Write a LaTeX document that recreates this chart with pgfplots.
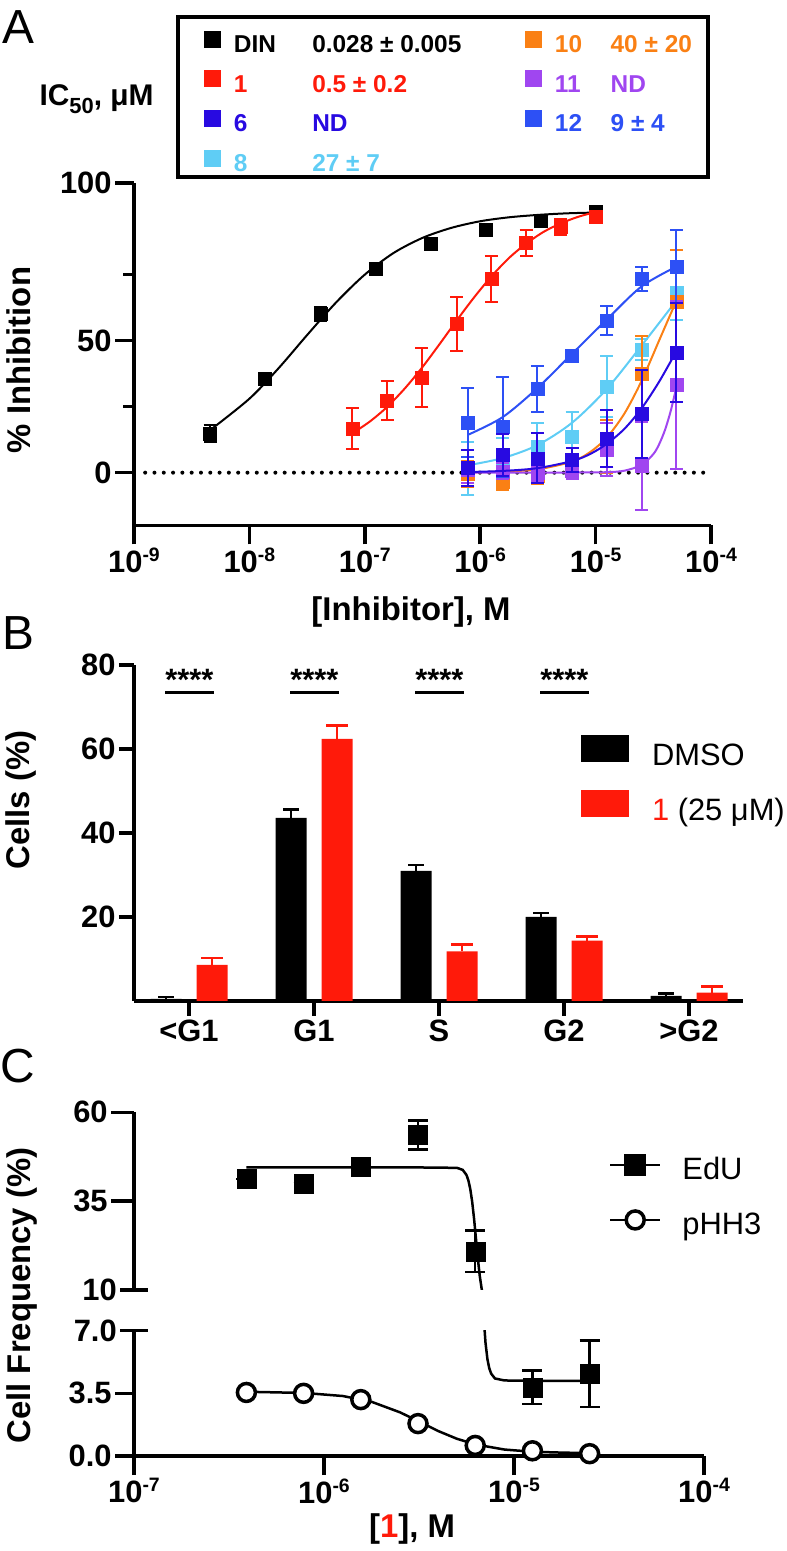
\documentclass[border=0pt]{standalone}
\usepackage{fontspec}
\setmainfont{Liberation Sans}
\usepackage{pgfplots}
\pgfplotsset{compat=1.18}
\definecolor{cRed}{RGB}{255,26,10}
\definecolor{cDB}{RGB}{40,10,225}
\definecolor{cLB}{RGB}{95,205,245}
\definecolor{cOr}{RGB}{250,128,20}
\definecolor{cPu}{RGB}{160,70,240}
\definecolor{cBl}{RGB}{45,80,245}
\newcommand\fs[1]{\fontsize{#1}{#1}\selectfont}
\newcommand\tpow[1]{10\raisebox{11bp}{\fs{19.5}#1}}
\newcommand\SR{\rule[-6.08bp]{0pt}{37.7bp}}
\newcommand\SB{\rule[-8bp]{0pt}{38bp}}
\newcommand\SC{\rule[-10bp]{0pt}{34bp}}
\pgfplotsset{
 gp/.style={scale only axis, anchor=south west, clip mode=individual,
  axis line style={line width=3.5bp,-},
  tick style={line width=3.5bp, black},
  tick align=outside, major tick length=19bp, minor tick length=11bp,
  ticklabel style={font=\bfseries\fs{31}},
  /pgf/number format/assume math mode=true,
  legend cell align=left},
 ptA/.style={only marks, mark=square*, mark size=6.5bp, mark options={solid},
  error bars/.cd, y dir=both, y explicit, error bar style={line width=2bp, #1},
  error mark options={rotate=90, mark size=6.5bp, line width=2bp, #1}},
 cvA/.style={line width=2bp, smooth, no marks, forget plot},
}
\begin{document}
\begin{tikzpicture}[x=1bp,y=1bp]
\useasboundingbox (0,0) rectangle (786,1551);

% ================= Panel A =================
\begin{axis}[gp, at={(134bp,1025.5bp)}, width=577bp, height=342.5bp,
 xmode=log, xmin=1e-9, xmax=1e-4, ymin=-20, ymax=109.7,
 axis x line*=bottom, axis y line*=left,
 xtick={1e-9,1e-8,1e-7,1e-6,1e-5,1e-4},
 xticklabels={\tpow{-9},\tpow{-8},\tpow{-7},\tpow{-6},\tpow{-5},\tpow{-4}},
 xminorticks=false,
 ytick={0,50,109.7}, yticklabels={0,50,100}, minor ytick={25,75},
 legend columns=2,
 legend style={at={(0.07626,1.4838)}, anchor=north west, draw=black, line width=4bp,
   inner xsep=26bp, inner ysep=3.85bp, outer sep=0pt, column sep=13bp, row sep=6.5bp,
   font=\bfseries\fs{24.5}, nodes={inner sep=0pt}},
 legend image code/.code={\fill[#1] (0bp,-10.1bp) rectangle (17bp,6.9bp);},
]
\addplot[black, line width=4bp, line cap=round, dash pattern=on 0bp off 9.3bp, forget plot]
  coordinates {(1.25e-9,0) (1e-4,0)};
% DIN
\addplot[black, cvA] coordinates {(4.57e-9,16.1) (1e-8,28.0) (1.778e-8,39.4) (3.162e-8,52.1)
 (5.623e-8,64.4) (1e-7,75.0) (1.778e-7,83.2) (3.162e-7,88.9) (5.623e-7,92.7) (1e-6,95.2)
 (1.778e-6,96.7) (3.162e-6,97.6) (5.623e-6,98.2) (1e-5,98.5)};
\addplot[black, forget plot, ptA=black] table[x=x,y=y,y error=e] {
x y e
4.57e-9 14.9 3.3
1.37e-8 35.7 1.5
4.12e-8 60.1 2.5
1.235e-7 77.4 2
3.7e-7 86.6 1.2
1.11e-6 91.9 1
3.33e-6 95.5 1
1e-5 98.9 0.8
};
% compound 1
\addplot[cRed, cvA] coordinates {(7.8125e-8,14.9) (1.109e-7,19.4) (1.5625e-7,24.9) (2.213e-7,31.8)
 (3.125e-7,39.7) (4.416e-7,48.5) (6.25e-7,57.6) (8.83e-7,66.3) (1.25e-6,74.3) (1.778e-6,81.3)
 (2.5e-6,86.7) (3.548e-6,91.2) (5e-6,94.4) (7.08e-6,96.9) (1e-5,98.7)};
\addplot[cRed, forget plot, ptA=cRed] table[x=x,y=y,y error=e] {
x y e
7.8125e-8 16.8 7.8
1.5625e-7 27.3 7.3
3.125e-7 36.1 11.2
6.25e-7 56.3 10.3
1.25e-6 73.3 8.7
2.5e-6 86.9 4.8
5e-6 93 3
1e-5 97 1.2
};
% compound 8
\addplot[cLB, cvA] coordinates {(7.8125e-7,2.8) (1.5625e-6,5.5) (3.125e-6,10.4) (6.25e-6,18.9)
 (1.25e-5,31.7) (2.5e-5,48.1) (5e-5,65.1)};
\addplot[cLB, forget plot, ptA=cLB] table[x=x,y=y,y error=e] {
x y e
7.8125e-7 1.7 10
1.5625e-6 5 8
3.125e-6 9.8 9
6.25e-6 13.6 9.5
1.25e-5 32.6 11.5
2.5e-5 46.5 4
5e-5 68.2 10.4
};
% compound 10
\addplot[cOr, cvA] coordinates {(7.8125e-7,0.1) (1.5625e-6,0.4) (3.125e-6,1.25) (6.25e-6,4.2)
 (8.91e-6,7.7) (1.25e-5,13.3) (1.778e-5,22.4) (2.5e-5,34.7) (3.548e-5,50) (5e-5,65)};
\addplot[cOr, forget plot, ptA=cOr] table[x=x,y=y,y error=e] {
x y e
7.8125e-7 -0.5 5
1.5625e-6 -3.4 3
3.125e-6 -1.3 3
6.25e-6 1.3 2
1.25e-5 10 10
2.5e-5 37.6 14
5e-5 64.8 19.6
};
% compound 11
\addplot[cPu, cvA] coordinates {(7.8125e-7,0) (1.5625e-6,0) (3.125e-6,0.02) (6.25e-6,0.05)
 (1.25e-5,0.18) (1.778e-5,0.75) (2.5e-5,2.9) (3.162e-5,7) (3.548e-5,10.7) (3.981e-5,16)
 (4.467e-5,23.2) (5e-5,32.2)};
\addplot[cPu, forget plot, ptA=cPu] table[x=x,y=y,y error=e] {
x y e
7.8125e-7 1 5
1.5625e-6 0.5 3
3.125e-6 0 3
6.25e-6 0.6 3
1.25e-5 8.8 10
2.5e-5 2.5 16.7
5e-5 33.2 31.9
};
% compound 12
\addplot[cBl, cvA] coordinates {(7.8125e-7,14.3) (1.5625e-6,21) (3.125e-6,32) (6.25e-6,45)
 (1.25e-5,58) (2.5e-5,70.5) (5e-5,78)};
\addplot[cBl, forget plot, ptA=cBl] table[x=x,y=y,y error=e] {
x y e
7.8125e-7 18.9 13
1.5625e-6 17.4 19
3.125e-6 31.7 8.6
6.25e-6 44.3 1.5
1.25e-5 57.5 5.5
2.5e-5 73.3 4.4
5e-5 78 13.9
};
% compound 6
\addplot[cDB, cvA] coordinates {(7.8125e-7,0.25) (1.5625e-6,0.65) (3.125e-6,1.7) (6.25e-6,4.4)
 (8.91e-6,7) (1.25e-5,10.9) (1.778e-5,16.6) (2.5e-5,24.3) (3.548e-5,34.4) (5e-5,45.9)};
\addplot[cDB, forget plot, ptA=cDB] table[x=x,y=y,y error=e] {
x y e
7.8125e-7 1.7 6.8
1.5625e-6 6.7 8
3.125e-6 5.4 9.5
6.25e-6 4.8 4.7
1.25e-5 13 10.7
2.5e-5 22.2 16.7
5e-5 45.5 18.6
};
% legend
\addlegendimage{fill=black, draw=none}
\addlegendentry{\SR\makebox[78.3bp][l]{DIN}\makebox[199.7bp][l]{0.028 ± 0.005}}
\addlegendimage{fill=cOr, draw=none}
\addlegendentry{\color{cOr}\SR\makebox[55.7bp][l]{10}\makebox[71.3bp][l]{40 ± 20}}
\addlegendimage{fill=cRed, draw=none}
\addlegendentry{\color{cRed}\SR\makebox[78.3bp][l]{1}\makebox[199.7bp][l]{0.5 ± 0.2}}
\addlegendimage{fill=cPu, draw=none}
\addlegendentry{\color{cPu}\SR\makebox[55.7bp][l]{11}\makebox[71.3bp][l]{ND}}
\addlegendimage{fill=cDB, draw=none}
\addlegendentry{\color{cDB}\SR\makebox[78.3bp][l]{6}\makebox[199.7bp][l]{ND}}
\addlegendimage{fill=cBl, draw=none}
\addlegendentry{\color{cBl}\SR\makebox[55.7bp][l]{12}\makebox[71.3bp][l]{9 ± 4}}
\addlegendimage{fill=cLB, draw=none}
\addlegendentry{\color{cLB}\SR\makebox[78.3bp][l]{8}\makebox[199.7bp][l]{27 ± 7}}
\end{axis}

% ================= Panel B =================
\begin{axis}[gp, at={(134bp,550bp)}, width=608.5bp, height=336bp,
 xmin=-0.44, xmax=4.428, ymin=0, ymax=80,
 axis x line*=bottom, axis y line*=left, major tick length=15bp,
 xtick={0,1,2,3,4}, xticklabels={<G1,G1,S,G2,>G2},
 ytick={20,40,60,80}, yticklabels={20,40,60,80},
 legend style={at={(0.7346,0.7923)}, anchor=north west, draw=none, fill=none,
   inner sep=0pt, outer sep=0pt, column sep=23bp, row sep=22.7bp,
   font=\fs{31}, nodes={inner sep=0pt}},
 legend image code/.code={\fill[#1] (0bp,-10.4bp) rectangle (48bp,16.6bp);},
]
\addplot[ybar, bar width=31bp, bar shift=0bp, fill=black, draw=none, forget plot,
  error bars/.cd, y dir=plus, y explicit, error bar style={draw=black, line width=2.5bp},
  error mark options={rotate=90, mark size=8bp, line width=2.5bp, draw=black}]
  coordinates {(-0.184,0.5) +- (0,0.5) (0.816,43.6) +- (0,2) (1.816,31) +- (0,1.4) (2.816,20) +- (0,1) (3.816,1.2) +- (0,0.6)};
\addplot[ybar, bar width=31bp, bar shift=0bp, fill=cRed, draw=none, forget plot,
  error bars/.cd, y dir=plus, y explicit, error bar style={draw=cRed, line width=2.5bp},
  error mark options={rotate=90, mark size=11bp, line width=2.5bp, draw=cRed}]
  coordinates {(0.184,8.6) +- (0,1.6) (1.184,62.4) +- (0,3.2) (2.184,11.8) +- (0,1.6) (3.184,14.4) +- (0,1.0) (4.184,2.0) +- (0,1.4)};
\addplot[black, line width=3bp, forget plot] coordinates {(-0.19,73.45) (0.196,73.45)};
\addplot[black, line width=3bp, forget plot] coordinates {(0.81,73.45) (1.196,73.45)};
\addplot[black, line width=3bp, forget plot] coordinates {(1.81,73.45) (2.196,73.45)};
\addplot[black, line width=3bp, forget plot] coordinates {(2.81,73.45) (3.196,73.45)};
\node[anchor=base, font=\bfseries\fs{31}] at (axis cs:0.003,73.9) {****};
\node[anchor=base, font=\bfseries\fs{31}] at (axis cs:1.003,73.9) {****};
\node[anchor=base, font=\bfseries\fs{31}] at (axis cs:2.003,73.9) {****};
\node[anchor=base, font=\bfseries\fs{31}] at (axis cs:3.003,73.9) {****};
\addlegendimage{fill=black, draw=none}
\addlegendentry{\SB DMSO}
\addlegendimage{fill=cRed, draw=none}
\addlegendentry{\SB\textcolor{cRed}{1} (25 μM)}
\end{axis}

% ================= Panel C upper =================
\begin{axis}[gp, at={(134bp,261bp)}, width=570bp, height=177.7bp,
 xmode=log, xmin=1e-7, xmax=1e-4, ymin=10, ymax=60,
 axis x line=none, axis y line*=left, major tick length=23bp,
 ytick={35,60}, yticklabels={35,60},
 extra y ticks={10}, extra y tick labels={10},
 extra y tick style={tick align=center, major tick length=27.6bp},
 legend style={at={(0.8333,0.7591)}, anchor=north west, draw=none, fill=none,
   inner sep=0pt, outer sep=0pt, column sep=21bp, row sep=29.7bp,
   font=\fs{31}, nodes={inner sep=0pt}},
 legend image code/.code={\draw[#1, mark repeat=2, mark phase=2] plot coordinates {(0bp,3.1bp) (25bp,3.1bp) (50bp,3.1bp)};},
]
\addplot[black, line width=2.5bp, no marks, forget plot] coordinates {
 (3.906e-7,44.5) (1e-6,44.5) (3.162e-6,44.48) (5.012e-6,44.37) (5.37e-6,43.8) (5.623e-6,42.36)
 (5.754e-6,40.84) (5.888e-6,38.4) (6.026e-6,34.8) (6.166e-6,30.0) (6.31e-6,24.35) (6.457e-6,18.7)
 (6.607e-6,13.9) (6.761e-6,10.29) (6.918e-6,7.86) (7.079e-6,6.34)};
\addplot[black, only marks, mark=square*, mark size=9.5bp, forget plot,
  error bars/.cd, y dir=both, y explicit, error bar style={line width=2.5bp},
  error mark options={rotate=90, mark size=10bp, line width=2.5bp}]
  table[x=x,y=y,y error=e] {
x y e
3.906e-7 41.3 0
7.8125e-7 40 0
1.5625e-6 44.7 0
3.125e-6 53.6 4.1
6.25e-6 20.9 5.9
};
\addlegendimage{black, line width=2.5bp, mark=square*, mark size=9.5bp}
\addlegendentry{\SC EdU}
\addlegendimage{black, line width=2.5bp, mark=*, mark size=9bp, mark options={fill=white, line width=3.5bp}}
\addlegendentry{\SC pHH3}
\end{axis}

% ================= Panel C lower =================
\begin{axis}[gp, at={(134bp,95bp)}, width=570bp, height=125.3bp,
 xmode=log, xmin=1e-7, xmax=1e-4, ymin=0, ymax=7,
 axis x line*=bottom, axis y line*=left,
 xtick={1e-7,1e-6,1e-5,1e-4}, xticklabels={\tpow{-7},\tpow{-6},\tpow{-5},\tpow{-4}},
 xminorticks=false,
 ytick={0,3.5}, yticklabels={0.0,3.5},
 extra y ticks={7}, extra y tick labels={7.0},
 extra y tick style={tick align=center, major tick length=27.6bp},
]
\addplot[black, line width=2.5bp, no marks] coordinates {
 (6.607e-6,13.9) (6.761e-6,10.29) (6.918e-6,7.86) (7.079e-6,6.34) (7.244e-6,5.43) (7.413e-6,4.9)
 (7.586e-6,4.6) (7.943e-6,4.33) (8.913e-6,4.22) (1.259e-5,4.2) (2.5e-5,4.2)};
\addplot[black, line width=2.5bp, no marks] coordinates {
 (3.89e-7,3.59) (7.94e-7,3.52) (1.259e-6,3.35) (1.778e-6,3.03) (2.512e-6,2.44) (3.236e-6,1.875)
 (3.981e-6,1.40) (5.012e-6,0.96) (6.31e-6,0.64) (8.913e-6,0.36) (1.259e-5,0.236) (1.778e-5,0.19) (2.512e-5,0.16)};
\addplot[black, only marks, mark=square*, mark size=9.5bp,
  error bars/.cd, y dir=both, y explicit, error bar style={line width=2.5bp},
  error mark options={rotate=90, mark size=10bp, line width=2.5bp}]
  table[x=x,y=y,y error=e] {
x y e
1.25e-5 3.84 0.94
2.5e-5 4.6 1.86
};
\addplot[black, only marks, mark=*, mark size=9bp, mark options={fill=white, line width=3.5bp}]
  table[x=x,y=y] {
x y
3.906e-7 3.55
7.8125e-7 3.5
1.5625e-6 3.15
3.125e-6 1.81
6.25e-6 0.59
1.25e-5 0.29
2.5e-5 0.13
};
\end{axis}

% ================= labels =================
\node[font=\fs{48}] at (18,1524) {A};
\node[font=\bfseries\fs{30}, anchor=west] at (36,1452) {IC\raisebox{-8bp}{\fs{22}50}, μM};
\node[font=\bfseries\fs{33}] at (411,939.3) {[Inhibitor], M};
\node[font=\bfseries\fs{33}, rotate=90] at (19,1191) {\% Inhibition};
\node[font=\fs{48}] at (18,918) {B};
\node[font=\bfseries\fs{33}, rotate=90] at (21,751) {Cells (\%)};
\node[font=\fs{48}] at (18,485) {C};
\node[font=\bfseries\fs{33}, rotate=90] at (22,255.5) {Cell Frequency (\%)};
\node[font=\bfseries\fs{33}] at (412,22.4) {[\textcolor{cRed}{1}], M};
\end{tikzpicture}
\end{document}
